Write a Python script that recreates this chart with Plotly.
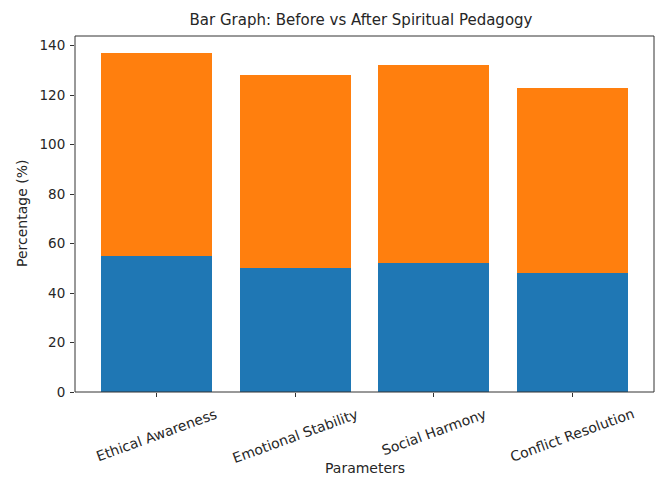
import plotly.graph_objects as go

categories = ["Ethical Awareness", "Emotional Stability", "Social Harmony", "Conflict Resolution"]
before = [55, 50, 52, 48]
after = [82, 78, 80, 75]
y_ticks = [0, 20, 40, 60, 80, 100, 120, 140]

font_family = "DejaVu Sans"
txt = "#262626"

fig = go.Figure()
fig.add_trace(go.Bar(x=categories, y=before, name="Before", marker=dict(color="#1f77b4", line=dict(width=0))))
fig.add_trace(go.Bar(x=categories, y=after, name="After", marker=dict(color="#ff7f0e", line=dict(width=0))))

plot_h = 484 - 36 - 92
plot_w = 661 - 75 - 7

annotations = []
for c in categories:
    annotations.append(dict(
        x=c, xref="x", y=0, yref="paper", yanchor="top", xanchor="center",
        yshift=-11, textangle=-20, text=c, showarrow=False,
        font=dict(size=14, color=txt, family=font_family),
    ))
annotations.append(dict(
    x=0.5, xref="paper", y=-(468 - 392) / plot_h, yref="paper",
    xanchor="center", yanchor="middle", text="Parameters", showarrow=False,
    font=dict(size=14, color=txt, family=font_family),
))
annotations.append(dict(
    x=-(75 - 22) / plot_w, xref="paper", y=0.5, yref="paper",
    xanchor="center", yanchor="middle", text="Percentage (%)", textangle=-90,
    showarrow=False, font=dict(size=14, color=txt, family=font_family),
))

fig.update_layout(
    barmode="stack",
    bargap=0.2,
    width=661, height=484,
    margin=dict(l=75, r=7, t=36, b=92, autoexpand=False),
    paper_bgcolor="white", plot_bgcolor="white",
    showlegend=False,
    font=dict(family=font_family, size=14, color=txt),
    title=dict(text="Bar Graph: Before vs After Spiritual Pedagogy", x=361 / 661, xref="container",
               xanchor="center", y=1 - 20 / 484, yanchor="middle", font=dict(size=15, color=txt)),
    annotations=annotations,
    shapes=[dict(type="rect", xref="paper", yref="paper", x0=0, x1=1, y0=0, y1=1,
                 line=dict(color="#333", width=1), fillcolor="rgba(0,0,0,0)", layer="above")],
)
fig.update_xaxes(
    range=[-0.59, 3.59], showline=False, automargin=False,
    ticks="outside", ticklen=4, tickcolor="#333", showgrid=False, showticklabels=False,
)
fig.update_yaxes(
    range=[0, 143.85], showline=False, automargin=False,
    ticks="outside", ticklen=4, tickcolor="#333", showgrid=False, zeroline=False,
    tickvals=y_ticks, ticklabelstandoff=2,
    tickfont=dict(size=13.5, color=txt),
)
fig.write_html("out.html", config={"displayModeBar": False},
               post_script="document.body.style.margin='0';document.body.style.overflow='hidden';")
